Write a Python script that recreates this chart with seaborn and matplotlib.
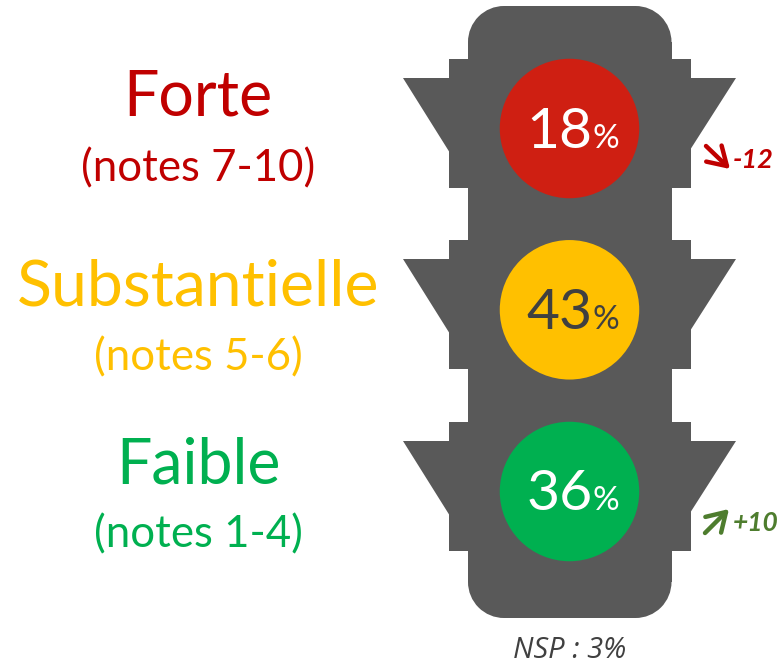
import matplotlib
matplotlib.use("Agg")
import matplotlib.pyplot as plt
from matplotlib.patches import Circle, Rectangle, Polygon, FancyArrowPatch
import pandas as pd
import seaborn as sns

levels = ["Forte", "Substantielle", "Faible"]
notes = ["(notes 7-10)", "(notes 5-6)", "(notes 1-4)"]
shares = [18, 43, 36]
light_colors = ["#CF1F12", "#FFC000", "#00B050"]
label_colors = ["#C00000", "#FFC000", "#00B050"]
value_colors = ["#FFFFFF", "#404040", "#FFFFFF"]
evolutions = ["-12", None, "+10"]
nsp_text = "NSP : 3%"

sns.set_theme(style="white")
plt.rcParams["font.family"] = ["Lato", "DejaVu Sans"]

W, H = 783, 663
fig = plt.figure(figsize=(W / 100, H / 100), dpi=100)
ax = fig.add_axes([0, 0, 1, 1])
ax.set_xlim(0, W)
ax.set_ylim(H, 0)
ax.axis("off")

GREY = "#595959"
cx = 569.5
centers = [128.5, 309.8, 491.5]
R = 36
left, right, top, bottom = 468, 671.5, 6, 618

ax.add_patch(Rectangle((left + R, top), right - left - 2 * R, bottom - top, fc=GREY, ec="none", zorder=1))
ax.add_patch(Rectangle((left, top + R), right - left, bottom - top - 2 * R, fc=GREY, ec="none", zorder=1))
for corner in [(left + R, top + R), (right - R, top + R), (left + R, bottom - R), (right - R, bottom - R)]:
    ax.add_patch(Circle(corner, R, fc=GREY, ec="none", zorder=1))
for cy in centers:
    ax.add_patch(Rectangle((449, cy - 69.5), 242, 129, fc=GREY, ec="none", zorder=1))
    ax.add_patch(Polygon([(403, cy - 50.5), (450, cy - 50.5), (450, cy + 24)], fc=GREY, ec="none", zorder=1))
    ax.add_patch(Polygon([(736, cy - 50.5), (690, cy - 50.5), (690, cy + 21)], fc=GREY, ec="none", zorder=1))

df = pd.DataFrame({"x": [cx] * 3, "y": centers, "level": levels})
sns.scatterplot(data=df, x="x", y="y", hue="level", palette=light_colors,
                s=(139.5 * 0.72) ** 2, linewidth=0, legend=False, ax=ax, zorder=2)
ax.set_xlim(0, W)
ax.set_ylim(H, 0)
ax.axis("off")

label_base = [116, 306, 484]
note_base = [181, 370, 547]
label_sizes = [45, 46.4, 45]
for i in range(3):
    ax.text(198, label_base[i], levels[i], color=label_colors[i], fontsize=label_sizes[i],
            ha="center", va="baseline", zorder=3)
    ax.text(198, note_base[i], notes[i], color=label_colors[i], fontsize=31.5,
            ha="center", va="baseline", zorder=3)
    ax.text(592.5, centers[i] + 19, f"{shares[i]}", color=value_colors[i], fontsize=41,
            ha="right", va="baseline", zorder=3)
    ax.text(593, centers[i] + 19, "%", color=value_colors[i], fontsize=24,
            ha="left", va="baseline", zorder=3)

ax.add_patch(FancyArrowPatch((706, 146), (730, 169), arrowstyle="->,head_length=13,head_width=8",
                             color="#C00000", lw=3.2, shrinkA=0, shrinkB=0, mutation_scale=1, zorder=3))
ax.text(733, 160, evolutions[0], color="#C00000", fontsize=19.5, fontweight="bold",
        style="italic", ha="left", va="center", zorder=3)
ax.add_patch(FancyArrowPatch((705, 533), (729, 509), arrowstyle="->,head_length=13,head_width=8",
                             color="#4E7D2E", lw=3.2, shrinkA=0, shrinkB=0, mutation_scale=1, zorder=3))
ax.text(733, 523, evolutions[2], color="#4E7D2E", fontsize=19, fontweight="bold",
        style="italic", ha="left", va="center", zorder=3)
ax.text(570, 650, nsp_text, color="#404040", fontsize=21, style="italic",
        ha="center", va="center", family=["Open Sans", "DejaVu Sans"], zorder=3)

fig.savefig("out.png", dpi=100)
